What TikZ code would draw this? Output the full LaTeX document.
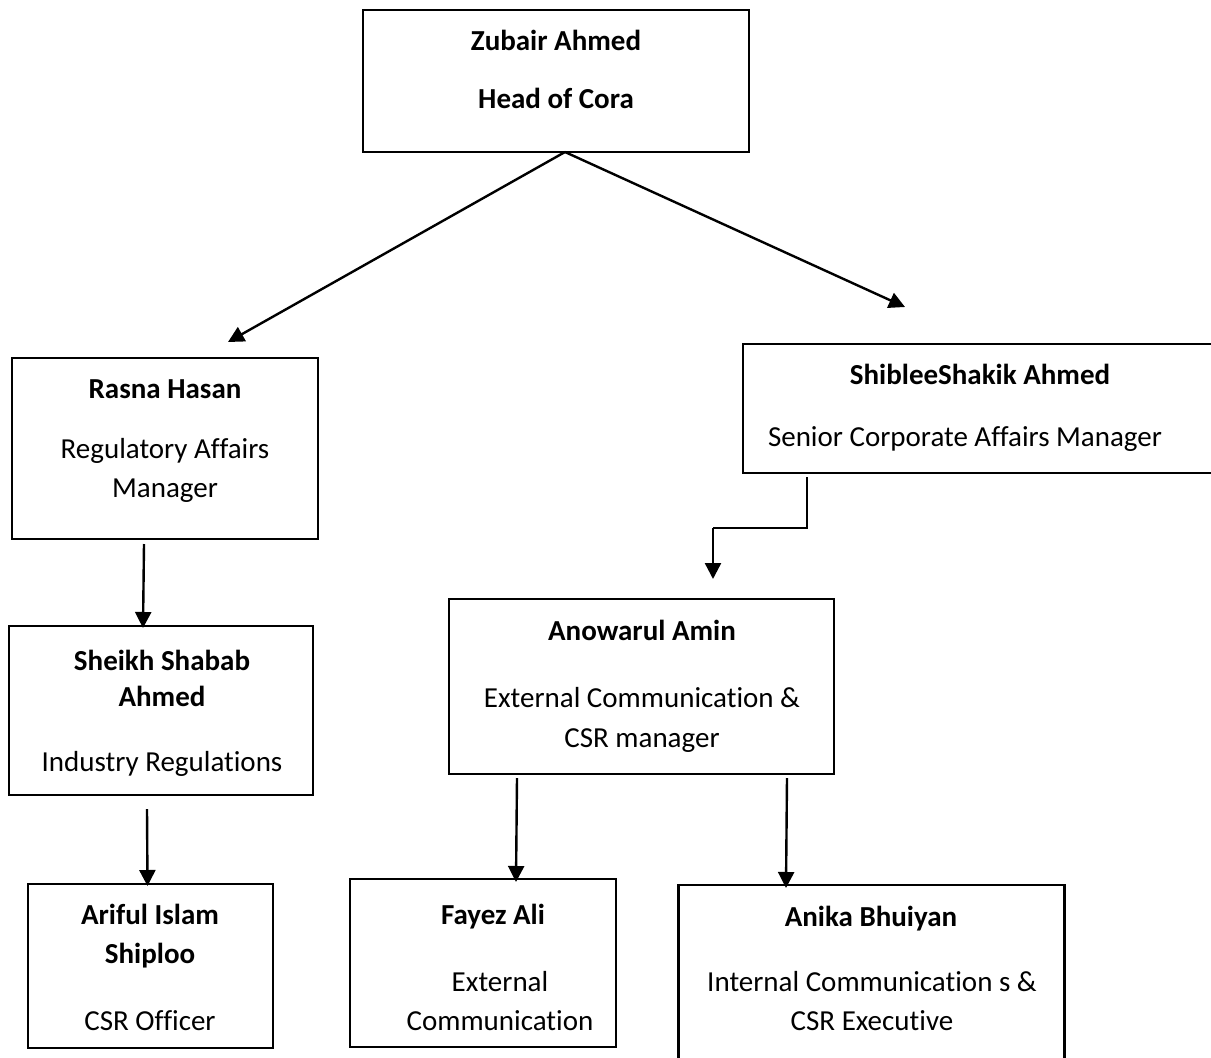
\documentclass[tikz,border=0pt]{standalone}
\usepackage{fontspec}
\setmainfont[Ligatures={NoCommon}]{Carlito}
\usetikzlibrary{arrows.meta}
\begin{document}
\begin{tikzpicture}[x=1pt,y=-1pt,
  box/.style={draw, line width=2.4pt, rectangle, inner sep=0pt, outer sep=0pt},
  nm/.style={font=\fontsize{29}{35}\selectfont\bfseries, anchor=base, inner sep=0pt},
  tl/.style={font=\fontsize{29}{35}\selectfont, anchor=base, inner sep=0pt},
  arr/.style={line width=2.4pt, -{Triangle[width=16pt,length=16pt]}}]
\useasboundingbox (0,0) rectangle (1211,1058);
\fill[white] (0,0) rectangle (1211,1058);

% boxes
\node[box, minimum width=386pt, minimum height=142pt] (top) at (556,81) {};
\node[box, minimum width=306pt, minimum height=181pt] (rasna) at (165,448.5) {};
\node[box, minimum width=497pt, minimum height=129pt] (shiblee) at (991.5,408.5) {};
\node[box, minimum width=304pt, minimum height=169pt] (sheikh) at (161,710.5) {};
\node[box, minimum width=385pt, minimum height=175pt] (anow) at (641.5,686.5) {};
\node[box, minimum width=245pt, minimum height=164pt] (ariful) at (150.5,966) {};
\node[box, minimum width=266pt, minimum height=168pt] (fayez) at (483,963) {};
\node[box, minimum width=386pt, minimum height=200pt] (anika) at (871.5,985) {};

% texts
\node[nm] (t1a) at (556,50) {Zubair Ahmed};
\node[nm] (t1b) at (556,108) {Head of Cora};

\node[nm] (t2a) at (165,398) {Rasna Hasan};
\node[tl] (t2b) at (165,458) {Regulatory Affairs};
\node[tl] (t2c) at (165,497) {Manager};

\node[nm] (t3a) at (980,384) {ShibleeShakik Ahmed};
\node[tl] (t3b) at (965,446) {Senior Corporate Affairs Manager};

\node[nm] (t4a) at (162,670) {Sheikh Shabab};
\node[nm] (t4b) at (162,706) {Ahmed};
\node[tl] (t4c) at (162,771) {Industry Regulations};

\node[nm] (t5a) at (642,640) {Anowarul Amin};
\node[tl] (t5b) at (642,707) {External Communication \&};
\node[tl] (t5c) at (642,747) {CSR manager};

\node[nm] (t6a) at (150,924) {Ariful Islam};
\node[nm] (t6b) at (150,963) {Shiploo};
\node[tl] (t6c) at (150,1030) {CSR Officer};

\node[nm] (t7a) at (493,924) {Fayez Ali};
\node[tl] (t7b) at (500,991) {External};
\node[tl] (t7c) at (500,1030) {Communication};

\node[nm] (t8a) at (871,926) {Anika Bhuiyan};
\node[tl] (t8b) at (872,991) {Internal Communication s \&};
\node[tl] (t8c) at (872,1030) {CSR Executive};

% connector ends
\coordinate (tipR) at (228,342);
\coordinate (tipS) at (905,307);
\coordinate (tipA) at (713,579);
\coordinate (bendA) at (807,528);
\coordinate (bendB) at (713,528);

\draw[arr] ([xshift=9pt]top.south) -- (tipR);
\draw[arr] ([xshift=9pt]top.south) -- (tipS);
\draw[arr] ([xshift=-21pt,yshift=-5pt]rasna.south) -- ([xshift=-18pt,yshift=-2pt]sheikh.north);
\draw[arr] ([xshift=-14pt,yshift=-14pt]sheikh.south) -- ([xshift=-3pt,yshift=-2pt]ariful.north);
\draw[line width=2.4pt] ([xshift=-184.5pt,yshift=-4pt]shiblee.south) -- (bendA) -- (bendB);
\draw[arr] (bendB) -- (tipA);
\draw[arr] ([xshift=-124.5pt,yshift=-4pt]anow.south) -- ([xshift=33pt,yshift=-3pt]fayez.north);
\draw[arr] ([xshift=145.5pt,yshift=-4pt]anow.south) -- ([xshift=-85.5pt,yshift=-3pt]anika.north);
\end{tikzpicture}
\end{document}
